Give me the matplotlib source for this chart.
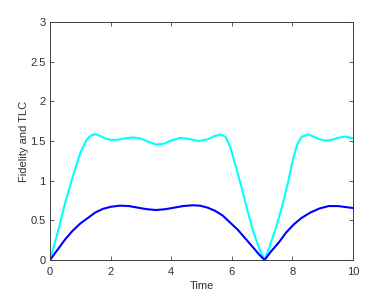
import matplotlib
matplotlib.use("Agg")
import matplotlib.pyplot as plt

plt.rcParams['font.family'] = ['Liberation Sans', 'DejaVu Sans']

# TLC curve (cyan)
t_tlc = [0.0, 0.25, 0.5, 0.75, 1.0, 1.2, 1.35, 1.5, 1.65, 1.8, 2.0, 2.2, 2.5, 2.75,
         3.0, 3.25, 3.5, 3.75, 4.0, 4.3, 4.6, 4.9, 5.2, 5.45, 5.65, 5.8, 5.95, 6.1,
         6.3, 6.5, 6.7, 6.9, 7.08, 7.25, 7.45, 7.65, 7.85, 8.0, 8.15, 8.3, 8.5, 8.7,
         8.9, 9.1, 9.3, 9.5, 9.75, 10.0]
tlc = [0.0, 0.34, 0.72, 1.05, 1.35, 1.51, 1.57, 1.585, 1.565, 1.535, 1.515, 1.515,
       1.535, 1.545, 1.53, 1.49, 1.455, 1.465, 1.505, 1.54, 1.525, 1.5, 1.52, 1.565,
       1.58, 1.55, 1.42, 1.22, 0.95, 0.65, 0.37, 0.15, 0.0, 0.17, 0.4, 0.66, 0.97,
       1.24, 1.45, 1.55, 1.585, 1.555, 1.52, 1.505, 1.515, 1.54, 1.555, 1.535]

# Fidelity curve (blue)
t_fid = [0.0, 0.25, 0.5, 0.75, 1.0, 1.25, 1.5, 1.75, 2.0, 2.3, 2.6, 2.9, 3.2, 3.5,
         3.8, 4.1, 4.4, 4.7, 4.95, 5.2, 5.45, 5.7, 5.95, 6.2, 6.45, 6.7, 6.9, 7.08,
         7.3, 7.55, 7.8, 8.05, 8.3, 8.6, 8.9, 9.2, 9.5, 9.8, 10.0]
fid = [0.0, 0.13, 0.26, 0.37, 0.46, 0.53, 0.6, 0.645, 0.67, 0.685, 0.68, 0.66, 0.64,
       0.63, 0.64, 0.66, 0.68, 0.69, 0.685, 0.66, 0.62, 0.56, 0.47, 0.38, 0.27, 0.16,
       0.07, 0.0, 0.11, 0.22, 0.35, 0.45, 0.53, 0.6, 0.65, 0.68, 0.68, 0.665, 0.655]

xticks = [0, 2, 4, 6, 8, 10]
yticks = [0, 0.5, 1, 1.5, 2, 2.5, 3]
ytick_labels = ['0', '0.5', '1', '1.5', '2', '2.5', '3']

fig = plt.figure(figsize=(3.9, 2.93), dpi=100)
ax = fig.add_axes([50/390, 33/293, 303/390, 238/293])

ax.plot(t_tlc, tlc, color='#00ffff', lw=1.5)
ax.plot(t_fid, fid, color='#0000ff', lw=1.5)

ax.set_xlim(0, 10)
ax.set_ylim(0, 3)
ax.set_xticks(xticks)
ax.set_xticklabels([str(x) for x in xticks])
ax.set_yticks(yticks)
ax.set_yticklabels(ytick_labels)
ax.tick_params(direction='in', length=3, width=0.6, top=True, right=True,
               labelsize=8, colors='#404040', labelcolor='#303030')
ax.tick_params(axis='x', pad=5)
ax.tick_params(axis='y', pad=3)
for s in ax.spines.values():
    s.set_color('#404040')
    s.set_linewidth(0.7)

ax.set_xlabel('Time', fontsize=8, color='#303030', labelpad=3)
ax.set_ylabel('Fidelity and TLC', fontsize=8, color='#303030', labelpad=1)

fig.savefig('out.png', dpi=100)
